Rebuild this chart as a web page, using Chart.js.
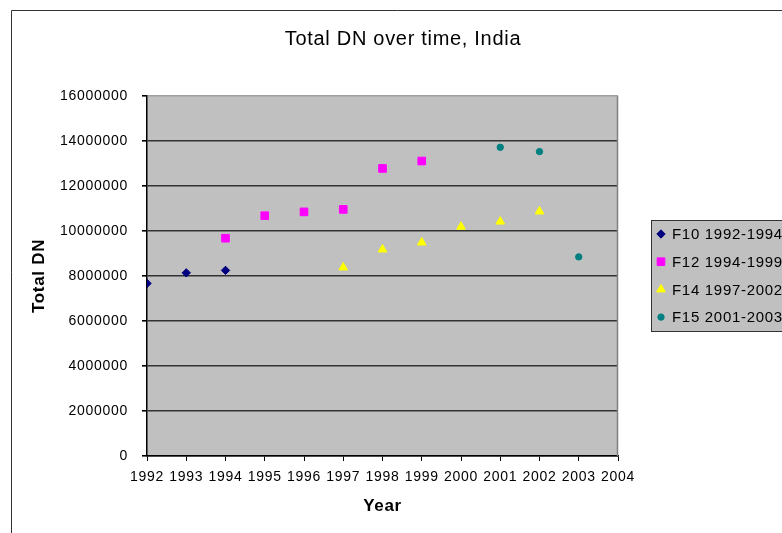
<!DOCTYPE html>
<html>
<head>
<meta charset="utf-8">
<title>Total DN over time, India</title>
<script src="https://cdn.jsdelivr.net/npm/chart.js@4/dist/chart.umd.min.js"></script>
<style>
  html, body { margin: 0; padding: 0; background: #ffffff; overflow: hidden; }
  canvas { display: block; }
</style>
</head>
<body>
<canvas id="chart" width="782" height="533"></canvas>
<script>
// Year ticks and value ticks
const yearTicks = [1992, 1993, 1994, 1995, 1996, 1997, 1998, 1999, 2000, 2001, 2002, 2003, 2004];
const dnTicks = [0, 2000000, 4000000, 6000000, 8000000, 10000000, 12000000, 14000000, 16000000];

// Satellite series (years and total DN)
const f10Years = [1992, 1993, 1994];
const f10Values = [7670000, 8140000, 8250000];

const f12Years = [1994, 1995, 1996, 1997, 1998, 1999];
const f12Values = [9680000, 10680000, 10850000, 10960000, 12780000, 13110000];

const f14Years = [1997, 1998, 1999, 2000, 2001, 2002];
const f14Values = [8380000, 9180000, 9490000, 10190000, 10420000, 10870000];

const f15Years = [2001, 2002, 2003];
const f15Values = [13720000, 13530000, 8850000];

const seriesLabels = ['F10 1992-1994', 'F12 1994-1999', 'F14 1997-2002', 'F15 2001-2003'];

const FONT = "'Liberation Sans', Arial, sans-serif";

function toPoints(xs, ys) {
  return xs.map((x, i) => ({ x: x, y: ys[i] }));
}

function series(label, xs, ys, color, style, radius) {
  return {
    label: label,
    data: toPoints(xs, ys),
    backgroundColor: color,
    borderColor: color,
    borderWidth: 1,
    pointStyle: style,
    pointRadius: radius,
    pointHoverRadius: radius,
    showLine: false
  };
}

// Slightly widened glyph spacing for all canvas text
const textSpacing = {
  id: 'textSpacing',
  beforeUpdate(chart) { chart.ctx.letterSpacing = '0.7px'; },
  beforeDraw(chart) { chart.ctx.letterSpacing = '0.7px'; }
};

// Outer frame and grey plot area
const plotBackground = {
  id: 'plotBackground',
  beforeDraw(chart) {
    const { ctx, chartArea: a } = chart;
    ctx.save();
    ctx.fillStyle = '#ffffff';
    ctx.fillRect(0, 0, chart.width, chart.height);
    ctx.strokeStyle = '#333333';
    ctx.lineWidth = 1;
    ctx.beginPath();
    ctx.moveTo(11.5, chart.height + 2);
    ctx.lineTo(11.5, 10.5);
    ctx.lineTo(chart.width + 2, 10.5);
    ctx.stroke();
    ctx.fillStyle = '#c0c0c0';
    ctx.fillRect(a.left, a.top, a.right - a.left, a.bottom - a.top);
    ctx.restore();
  },
  beforeDatasetsDraw(chart) {
    const { ctx, chartArea: a } = chart;
    ctx.save();
    ctx.strokeStyle = '#808080';
    ctx.lineWidth = 1.5;
    ctx.beginPath();
    ctx.moveTo(Math.round(a.right) - 0.5, a.top);
    ctx.lineTo(Math.round(a.right) - 0.5, a.bottom);
    ctx.stroke();
    ctx.restore();
  }
};

// Boxed legend to the right of the plot
const boxedLegend = {
  id: 'boxedLegend',
  afterDraw(chart) {
    const { ctx } = chart;
    const left = 651, top = 220, width = 160, height = 111;
    ctx.save();
    ctx.fillStyle = '#c0c0c0';
    ctx.fillRect(left, top, width, height);
    ctx.strokeStyle = '#333333';
    ctx.lineWidth = 1;
    ctx.strokeRect(left + 0.5, top + 0.5, width, height);
    ctx.font = '15px ' + FONT;
    ctx.letterSpacing = '0.7px';
    ctx.textAlign = 'left';
    ctx.textBaseline = 'middle';
    chart.data.datasets.forEach((ds, i) => {
      const y = top + 14 + i * 27.7;
      ctx.fillStyle = ds.backgroundColor;
      ctx.strokeStyle = ds.borderColor;
      ctx.lineWidth = 1;
      Chart.helpers.drawPoint(ctx, { pointStyle: ds.pointStyle, radius: ds.pointRadius, rotation: 0, borderWidth: 1 }, 661, y);
      ctx.fillStyle = '#000000';
      ctx.fillText(ds.label, 672, y + 1);
    });
    ctx.restore();
  }
};

new Chart(document.getElementById('chart'), {
  type: 'scatter',
  data: {
    datasets: [
      series(seriesLabels[0], f10Years, f10Values, '#000080', 'rectRot', 4.2),
      series(seriesLabels[1], f12Years, f12Values, '#ff00ff', 'rect', 5.4),
      series(seriesLabels[2], f14Years, f14Values, '#ffff00', 'triangle', 5),
      series(seriesLabels[3], f15Years, f15Values, '#008080', 'circle', 3.2)
    ]
  },
  options: {
    responsive: false,
    animation: false,
    layout: { padding: { left: 24, right: 0, top: 0, bottom: 0 } },
    plugins: {
      legend: { display: false },
      tooltip: { enabled: false },
      title: {
        display: true,
        text: 'Total DN over time, India',
        color: '#000000',
        font: { family: FONT, size: 20, weight: 'normal' },
        padding: { top: 27, bottom: 45 }
      }
    },
    scales: {
      x: {
        type: 'linear',
        position: 'bottom',
        min: yearTicks[0],
        max: yearTicks[yearTicks.length - 1],
        afterBuildTicks(scale) { scale.ticks = yearTicks.map(v => ({ value: v })); },
        afterFit(scale) { scale.height = 77; },
        grid: { drawOnChartArea: false, drawTicks: true, tickLength: 5, color: '#000000', tickColor: '#000000' },
        border: { display: true, color: '#000000', width: 1.5 },
        ticks: {
          color: '#000000',
          padding: 8,
          maxRotation: 0,
          autoSkip: false,
          font: { family: FONT, size: 14 },
          callback: v => String(v)
        },
        title: {
          display: true,
          text: 'Year',
          color: '#000000',
          font: { family: FONT, size: 17, weight: 'bold' },
          padding: { top: 0, bottom: 16 }
        }
      },
      y: {
        type: 'linear',
        position: 'left',
        min: dnTicks[0],
        max: dnTicks[dnTicks.length - 1],
        afterBuildTicks(scale) { scale.ticks = dnTicks.map(v => ({ value: v })); },
        afterFit(scale) { scale.width = 123; },
        grid: {
          drawOnChartArea: true,
          drawTicks: true,
          tickLength: 5,
          lineWidth: 1.6,
          color: ctx => (ctx.tick && ctx.tick.value === dnTicks[dnTicks.length - 1]) ? '#a0a0a0' : '#333333',
          tickColor: '#000000'
        },
        border: { display: true, color: '#000000', width: 1.5 },
        ticks: {
          color: '#000000',
          padding: 14,
          autoSkip: false,
          font: { family: FONT, size: 14 },
          callback: v => String(v)
        },
        title: {
          display: true,
          text: 'Total DN',
          color: '#000000',
          font: { family: FONT, size: 17, weight: 'bold' },
          padding: { top: 5, bottom: 0 }
        }
      },
      yRight: {
        type: 'linear',
        position: 'right',
        display: true,
        min: 0,
        max: 1,
        afterFit(scale) { scale.width = 164; },
        grid: { display: false, drawTicks: false },
        border: { display: false },
        ticks: { display: false }
      }
    }
  },
  plugins: [textSpacing, plotBackground, boxedLegend]
});
</script>
</body>
</html>
